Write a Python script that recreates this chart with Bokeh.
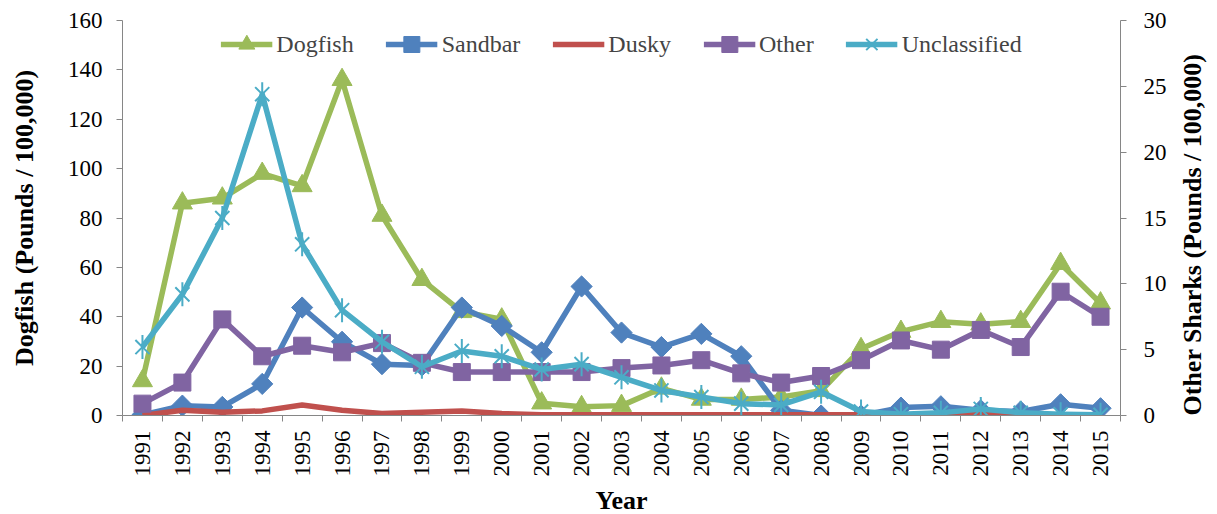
import math
from bokeh.plotting import figure
from bokeh.models import Range1d, LinearAxis, FixedTicker, Legend, LegendItem, ColumnDataSource
from bokeh.embed import file_html
from bokeh.resources import INLINE

years = list(range(1991, 2016))
dogfish = [14, 86, 88, 98, 93, 136, 81, 55, 42, 39, 5, 3.5, 4, 11, 6.5, 6.5, 7.5, 10,
           27, 34, 38, 37, 38, 61.5, 45.5]
sandbar = [0.05, 0.75, 0.65, 2.4, 8.2, 5.6, 3.9, 3.8, 8.2, 6.8, 4.8, 9.8, 6.3, 5.2,
           6.2, 4.5, 0.4, 0.0, 0.0, 0.6, 0.7, 0.4, 0.3, 0.85, 0.55]
dusky = [0.0, 0.4, 0.25, 0.35, 0.8, 0.4, 0.15, 0.25, 0.35, 0.15, 0.05, 0.05, 0.05,
         0.05, 0.05, 0.05, 0.05, 0.05, 0.05, 0.05, 0.05, 0.1, 0.05, 0.05, 0.05]
other = [0.9, 2.5, 7.3, 4.5, 5.3, 4.8, 5.5, 4.0, 3.3, 3.3, 3.3, 3.3, 3.6, 3.8, 4.2,
         3.2, 2.5, 3.0, 4.2, 5.7, 5.0, 6.5, 5.2, 9.4, 7.5]
unclassified = [5.2, 9.2, 15.0, 24.4, 13.0, 8.0, 5.6, 3.7, 4.9, 4.5, 3.5, 3.9, 2.9,
                1.9, 1.4, 0.9, 0.8, 1.8, 0.3, 0.1, 0.2, 0.5, 0.2, 0.1, 0.05]
left_ticks = [0, 20, 40, 60, 80, 100, 120, 140, 160]
right_ticks = [0, 5, 10, 15, 20, 25, 30]

src = ColumnDataSource(dict(year=years, dogfish=dogfish, sandbar=sandbar, dusky=dusky,
                            other=other, unclassified=unclassified))

FONT = "Liberation Serif"
AXIS_COL = "#868686"
GREEN, BLUE, RED, PURPLE, CYAN = "#9BBB59", "#4F81BD", "#C0504D", "#8064A2", "#4BACC6"

p = figure(frame_width=998, frame_height=395,
           x_range=Range1d(years[0] - 0.5, years[-1] + 0.5),
           y_range=Range1d(left_ticks[0], left_ticks[-1]),
           output_backend="svg", toolbar_location=None,
           min_border_left=122, min_border_top=20, min_border_right=92, min_border_bottom=94)
p.outline_line_color = None
p.xgrid.visible = False
p.ygrid.visible = False
p.background_fill_color = "white"

p.extra_y_ranges = {"other": Range1d(right_ticks[0], right_ticks[-1])}

def style_axis(ax):
    ax.axis_line_color = AXIS_COL
    ax.major_tick_line_color = AXIS_COL
    ax.minor_tick_line_color = AXIS_COL
    ax.major_label_text_font = FONT
    ax.major_label_text_font_style = "normal"
    ax.major_label_text_font_size = "23px"
    ax.major_label_text_color = "black"
    ax.axis_label_text_font = FONT
    ax.axis_label_text_font_size = "26px"
    ax.axis_label_text_font_style = "bold"
    ax.axis_label_text_color = "black"

# bottom axis: ticks between years, labels vertical
xa = p.xaxis[0]
style_axis(xa)
xa.ticker = FixedTicker(ticks=years, minor_ticks=[y - 0.5 for y in years] + [years[-1] + 0.5])
xa.major_tick_out = 0
xa.major_tick_in = 0
xa.minor_tick_out = 6
xa.minor_tick_in = 0
xa.major_label_orientation = math.pi / 2
xa.major_label_standoff = 9
xa.axis_label = "Year"
xa.axis_label_standoff = 6

# left axis (Dogfish)
ya = p.yaxis[0]
style_axis(ya)
ya.ticker = FixedTicker(ticks=left_ticks, minor_ticks=[])
ya.major_tick_out = 6
ya.major_tick_in = 0
ya.minor_tick_out = 0
ya.minor_tick_in = 0
ya.major_label_standoff = 14
ya.axis_label = "Dogfish (Pounds / 100,000)"
ya.axis_label_standoff = 26

# right axis (other sharks)
ra = LinearAxis(y_range_name="other")
style_axis(ra)
ra.ticker = FixedTicker(ticks=right_ticks, minor_ticks=[])
ra.major_tick_out = 6
ra.major_tick_in = 0
ra.minor_tick_out = 0
ra.minor_tick_in = 0
ra.major_label_standoff = 17
ra.axis_label = "Other Sharks (Pounds / 100,000)"
ra.axis_label_standoff = 23
ra.axis_label_orientation = math.pi / 2
ra.axis_label_align = "start"
p.add_layout(ra, "right")

LW = 5.5

l_dog = p.line("year", "dogfish", source=src, color=GREEN, line_width=LW, line_join="round")
m_dog = p.scatter("year", "dogfish", source=src, marker="triangle", size=20,
                  fill_color=GREEN, line_color=GREEN)

l_sand = p.line("year", "sandbar", source=src, color=BLUE, line_width=LW, line_join="round",
                y_range_name="other")
m_sand = p.scatter("year", "sandbar", source=src, marker="square", size=15, angle=math.pi / 4,
                   fill_color=BLUE, line_color=BLUE, y_range_name="other")

l_dusky = p.line("year", "dusky", source=src, color=RED, line_width=LW, line_join="round",
                 y_range_name="other")

l_oth = p.line("year", "other", source=src, color=PURPLE, line_width=LW, line_join="round",
               y_range_name="other")
m_oth = p.scatter("year", "other", source=src, marker="square", size=17,
                  fill_color=PURPLE, line_color=PURPLE, y_range_name="other")

l_unc = p.line("year", "unclassified", source=src, color=CYAN, line_width=LW, line_join="round",
               y_range_name="other")
m_unc1 = p.scatter("year", "unclassified", source=src, marker="x", size=20, line_width=2,
                   line_color=CYAN, y_range_name="other")
m_unc2 = p.scatter("year", "unclassified", source=src, marker="dash", size=24, angle=math.pi / 2,
                   line_width=2, line_color=CYAN, y_range_name="other")

legend = Legend(items=[
    LegendItem(label="Dogfish", renderers=[l_dog, m_dog]),
    LegendItem(label="Sandbar", renderers=[l_sand, m_sand]),
    LegendItem(label="Dusky", renderers=[l_dusky]),
    LegendItem(label="Other", renderers=[l_oth, m_oth]),
    LegendItem(label="Unclassified", renderers=[l_unc, m_unc1, m_unc2]),
], location="top_center", orientation="horizontal",
    glyph_width=52, glyph_height=40, label_height=24, label_standoff=4, spacing=32,
    padding=2, margin=2, label_text_font=FONT, label_text_font_size="24px",
    background_fill_alpha=0, border_line_alpha=0)
p.add_layout(legend)

open("out.html", "w").write(file_html(p, INLINE))
